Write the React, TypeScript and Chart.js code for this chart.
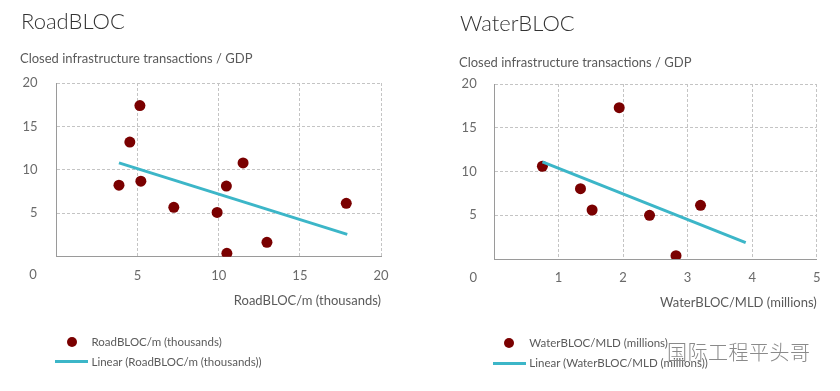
import React, { useEffect, useRef } from "react";
import { Chart, registerables } from "chart.js";
Chart.register(...registerables);

// ---- Data ----
const roadX = [5.14, 4.52, 3.85, 5.2, 7.23, 9.9, 10.47, 11.5, 10.5, 12.97, 17.86];
const roadY = [17.4, 13.2, 8.24, 8.7, 5.68, 5.1, 8.13, 10.8, 0.39, 1.65, 6.14];
const roadTrendX = [3.85, 17.92];
const roadTrendY = [10.8, 2.57];

const waterX = [1.94, 0.75, 1.34, 1.52, 2.41, 3.2, 2.82];
const waterY = [17.3, 10.6, 8.04, 5.6, 4.99, 6.13, 0.38];
const waterTrendX = [0.75, 3.9];
const waterTrendY = [11.1, 1.86];

const yTicks = [0, 5, 10, 15, 20];
const roadXTicks = [0, 5, 10, 15, 20];
const waterXTicks = [0, 1, 2, 3, 4, 5];

const FONT = "Lato, 'Open Sans', sans-serif";
const DOT = "#7a0000";
const LINE = "#3cb6c8";
const TEXT = "#5a5a5a";
const TICK = "#6a6a6a";

type PanelProps = {
  offsetX: number;
  title: string;
  subtitle: string;
  xTitle: string;
  xs: number[];
  ys: number[];
  tx: number[];
  ty: number[];
  xTicks: number[];
  legendPoint: string;
  legendLine: string;
  pad: { top: number; right: number; bottom: number };
  yWidth: number;
  yLabelPad: number;
  zeroOffset: number;
  titleTop: number;
  titleLeft: number;
  subTop: number;
  subLeft: number;
  legDotX: number;
  legDotY: number;
  legLineX1: number;
  legLineX2: number;
  legLineY: number;
  legTextX: number;
};

function Panel(p: PanelProps) {
  const ref = useRef<HTMLCanvasElement | null>(null);
  useEffect(() => {
    if (!ref.current) return;
    const xMax = p.xTicks[p.xTicks.length - 1];
    const xStep = p.xTicks[1] - p.xTicks[0];
    const zeroPlugin = {
      id: "zeroLabel",
      afterDraw(chart: any) {
        const { ctx, chartArea } = chart;
        ctx.save();
        ctx.font = `13px ${FONT}`;
        ctx.fillStyle = TICK;
        ctx.textAlign = "center";
        ctx.textBaseline = "middle";
        ctx.fillText(String(yTicks[0]), chartArea.left - p.zeroOffset, chartArea.bottom + 18.5);
        ctx.restore();
      },
    };
    const chart = new Chart(ref.current, {
      type: "scatter",
      data: {
        datasets: [
          {
            type: "line",
            label: p.legendLine,
            data: p.tx.map((x, i) => ({ x, y: p.ty[i] })),
            borderColor: LINE,
            backgroundColor: LINE,
            borderWidth: 3,
            pointRadius: 0,
            fill: false,
            order: 0,
          } as any,
          {
            type: "scatter",
            label: p.legendPoint,
            data: p.xs.map((x, i) => ({ x, y: p.ys[i] })),
            backgroundColor: DOT,
            borderColor: DOT,
            borderWidth: 0,
            pointRadius: 5.5,
            order: 1,
          },
        ],
      },
      options: {
        responsive: false,
        animation: false,
        devicePixelRatio: 1,
        layout: { padding: { top: p.pad.top, left: 0, right: p.pad.right, bottom: p.pad.bottom } },
        plugins: { legend: { display: false }, tooltip: { enabled: false } },
        scales: {
          x: {
            type: "linear",
            min: p.xTicks[0],
            max: xMax,
            afterBuildTicks: (s: any) => {
              s.ticks = p.xTicks.map((v) => ({ value: v }));
            },
            ticks: {
              stepSize: xStep,
              padding: 11,
              color: TICK,
              font: { family: FONT, size: 13 },
              callback: (v: any) => (v === 0 ? "" : String(v)),
              maxRotation: 0,
            },
            grid: { color: "#c4c4c4", drawTicks: false, lineWidth: 1 },
            border: { display: true, color: "#9a9a9a", width: 1, dash: [3, 2] },
            title: {
              display: true,
              text: p.xTitle,
              align: "end",
              color: TEXT,
              font: { family: FONT, size: 13 },
              padding: 0,
            },
            afterFit: (s: any) => {
              s.height = 52;
            },
          },
          y: {
            type: "linear",
            min: yTicks[0],
            max: yTicks[yTicks.length - 1],
            afterBuildTicks: (s: any) => {
              s.ticks = yTicks.map((v) => ({ value: v }));
            },
            ticks: {
              stepSize: 5,
              padding: p.yLabelPad,
              color: TICK,
              font: { family: FONT, size: 13 },
              callback: (v: any) => (v === 0 ? "" : String(v)),
            },
            grid: { color: "#c4c4c4", drawTicks: false, lineWidth: 1 },
            border: { display: true, color: "#9a9a9a", width: 1, dash: [3, 2] },
            afterFit: (s: any) => {
              s.width = p.yWidth;
            },
          },
        },
      },
      plugins: [zeroPlugin],
    } as any);
    return () => chart.destroy();
  }, []);

  const textStyle: React.CSSProperties = {
    position: "absolute",
    fontFamily: FONT,
    color: TEXT,
    whiteSpace: "nowrap",
    lineHeight: 1,
  };

  return (
    <div style={{ position: "absolute", left: p.offsetX, top: 0, width: 420, height: 391 }}>
      <canvas ref={ref} width={420} height={391} style={{ position: "absolute", left: 0, top: 0, width: 420, height: 391 }} />
      <div style={{ ...textStyle, left: p.titleLeft, top: p.titleTop, fontSize: 22, fontWeight: 300, color: "#333" }}>{p.title}</div>
      <div style={{ ...textStyle, left: p.subLeft, top: p.subTop, fontSize: 13 }}>{p.subtitle}</div>
      <div
        style={{
          position: "absolute",
          left: p.legDotX - 5,
          top: p.legDotY - 5,
          width: 10,
          height: 10,
          borderRadius: 5,
          background: DOT,
        }}
      />
      <div style={{ ...textStyle, left: p.legTextX, top: p.legDotY - 6, fontSize: 11.5 }}>{p.legendPoint}</div>
      <div
        style={{
          position: "absolute",
          left: p.legLineX1,
          top: p.legLineY - 1.5,
          width: p.legLineX2 - p.legLineX1,
          height: 3,
          background: LINE,
        }}
      />
      <div style={{ ...textStyle, left: p.legTextX, top: p.legLineY - 6, fontSize: 11.5 }}>{p.legendLine}</div>
    </div>
  );
}

export default function App() {
  return (
    <div style={{ position: "fixed", left: 0, top: 0, width: 840, height: 391, background: "#fff", overflow: "hidden" }}>
      <Panel
        offsetX={0}
        title="RoadBLOC"
        subtitle="Closed infrastructure transactions / GDP"
        xTitle="RoadBLOC/m (thousands)"
        xs={roadX}
        ys={roadY}
        tx={roadTrendX}
        ty={roadTrendY}
        xTicks={roadXTicks}
        legendPoint="RoadBLOC/m (thousands)"
        legendLine="Linear (RoadBLOC/m (thousands))"
        pad={{ top: 83, right: 39, bottom: 82.3 }}
        yWidth={56.5}
        yLabelPad={19}
        zeroOffset={23.5}
        titleTop={10}
        titleLeft={21}
        subTop={52}
        subLeft={20}
        legDotX={72}
        legDotY={342}
        legLineX1={55}
        legLineX2={88}
        legLineY={361.7}
        legTextX={91.5}
      />
      <Panel
        offsetX={420}
        title="WaterBLOC"
        subtitle="Closed infrastructure transactions / GDP"
        xTitle="WaterBLOC/MLD (millions)"
        xs={waterX}
        ys={waterY}
        tx={waterTrendX}
        ty={waterTrendY}
        xTicks={waterXTicks}
        legendPoint="WaterBLOC/MLD (millions)"
        legendLine="Linear (WaterBLOC/MLD (millions))"
        pad={{ top: 84, right: 23.3, bottom: 80 }}
        yWidth={74}
        yLabelPad={17.3}
        zeroOffset={20.7}
        titleTop={12}
        titleLeft={40}
        subTop={56}
        subLeft={39}
        legDotX={89.3}
        legDotY={343.3}
        legLineX1={73}
        legLineX2={106}
        legLineY={363.3}
        legTextX={109.3}
      />
      <div
        style={{
          position: "absolute",
          left: 667,
          top: 342,
          fontFamily: "'Noto Sans CJK SC', sans-serif",
          fontSize: 20,
          fontWeight: 300,
          lineHeight: 1,
          color: "#8a8a8a",
          whiteSpace: "nowrap",
          letterSpacing: 0.5,
        }}
      >
        国际工程平头哥
      </div>
    </div>
  );
}
